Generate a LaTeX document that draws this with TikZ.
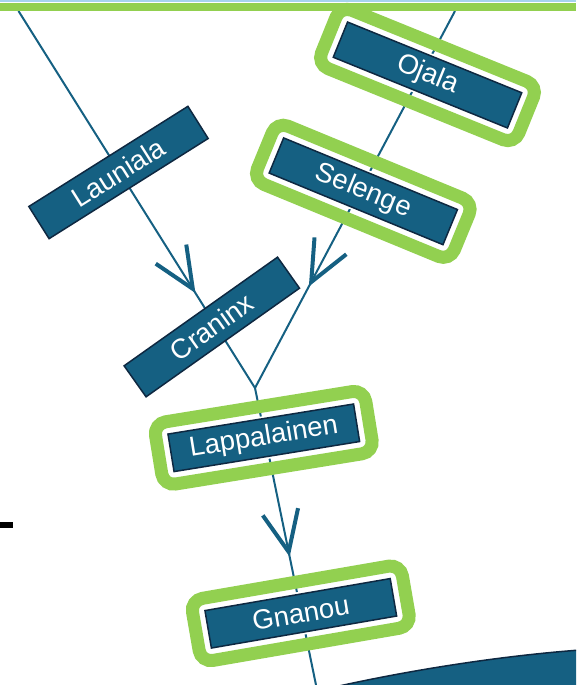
\documentclass[tikz,border=0pt]{standalone}
\usepackage{fontspec}
\setmainfont{Liberation Sans}
\usetikzlibrary{decorations.markings}

\definecolor{edgeblue}{HTML}{156082}
\definecolor{boxblue}{HTML}{156082}
\definecolor{boxline}{HTML}{0E2841}
\definecolor{hlgreen}{HTML}{92D050}
\definecolor{toplight}{HTML}{A6D3EE}

\tikzset{
  link/.style={draw=edgeblue, line width=2pt},
  vmark/.style={postaction={decorate, decoration={markings,
      mark=at position #1 with {\draw[draw=edgeblue, line width=4pt, miter limit=10]
        (-41pt,18pt) -- (0pt,0pt) -- (-41pt,-18pt);}}}},
  tag/.style={draw=boxline, line width=1.5pt, fill=boxblue, text=white,
    minimum width=188pt, minimum height=38pt, inner sep=0pt,
    font=\fontsize{27.5}{32}\selectfont},
  ring/.style={preaction={draw=white, line width=5pt}},
  halo/.style={draw=hlgreen, line width=13pt, rounded corners=12pt,
    minimum width=213pt, minimum height=63pt, inner sep=0pt},
}

\begin{document}
\begin{tikzpicture}[x=1pt,y=-1pt]
\useasboundingbox (0,0) rectangle (576,685);
\clip (0,0) rectangle (576,685);

% end points of the branches
\coordinate (t1) at (18.5,11);
\coordinate (t2) at (455,11);
\coordinate (j) at (255,388);
\coordinate (b) at (316,685);

% branches with open arrowheads
\path[link, vmark=0.737] (t1) -- (j);
\path[link, vmark=0.719] (t2) -- (j);
\path[link, vmark=0.552] (j) -- (b);

% highlight frames
\node[halo, rotate=-22.1] (ojalaH) at (427.5,75) {};
\node[halo, rotate=-22.4] (selengeH) at (363.3,191.3) {};
\node[halo, rotate=9.2] (lappH) at (263.8,437.8) {};
\node[halo, rotate=9.8] (gnanouH) at (300.8,613.3) {};

% branch labels
\node[tag, rotate=32.2] (launiala) at (118.5,172.5) {Launiala};
\node[tag, rotate=35.3] (craninx) at (211.8,327) {Craninx};
\node[tag, ring, rotate=-22.1] (ojala) at (427.5,75) {Ojala};
\node[tag, ring, rotate=-22.4] (selenge) at (363.3,191.3) {Selenge};
\node[tag, ring, rotate=9.2] (lapp) at (263.8,437.8) {Lappalainen};
\node[tag, ring, rotate=9.8] (gnanou) at (300.8,613.3) {Gnanou};

% large shape entering at the lower right
\filldraw[fill=boxblue, draw=boxline, line width=1.5pt]
  (330,688) .. controls (410,670) and (500,656) .. (580,650) -- (580,690) -- cycle;

% top bands
\fill[toplight] (0,0) rectangle (576,2);
\fill[hlgreen] (0,3.3) rectangle (576,11);

% small mark at the left edge
\fill[black] (0,522) rectangle (13,527.5);
\end{tikzpicture}
\end{document}
